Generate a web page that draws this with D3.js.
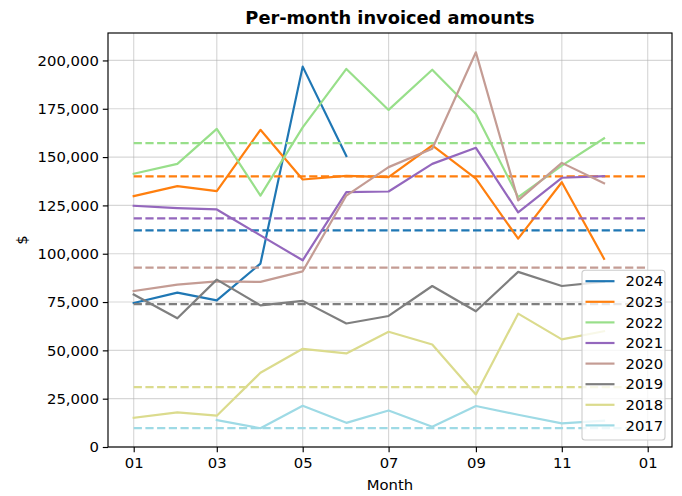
<!DOCTYPE html>
<html>
<head>
<meta charset="utf-8">
<script src="https://cdn.jsdelivr.net/npm/d3@7"></script>
<style>
  body { margin: 0; background: #fff; }
  svg, svg text { font-family: "DejaVu Sans", sans-serif; }
  .axis path, .axis line { stroke: #000; stroke-width: 1.15; }
  .axis text { font-family: "DejaVu Sans", sans-serif; font-size: 14.8px; fill: #000; }
</style>
</head>
<body>
<div id="chart"></div>
<script>
// Données
const months = ["01", "02", "03", "04", "05", "06", "07", "08", "09", "10", "11", "12"];
const years = ["2024", "2023", "2022", "2021", "2020", "2019", "2018", "2017"];
const colors = ["#1f77b4", "#ff7f0e", "#98df8a", "#9467bd", "#c49c94", "#7f7f7f", "#dbdb8d", "#9edae5"];

const values2024 = [74500, 79900, 75900, 94900, 196800, 150500, null, null, null, null, null, null];
const values2023 = [129800, 135000, 132400, 164100, 138400, 140300, 139600, 156000, 138800, 107800, 137000, 97400];
const values2022 = [141400, 146500, 164600, 130100, 165400, 195600, 174400, 195200, 172300, 129300, 145600, 159700];
const values2021 = [124800, 123600, 122900, 109500, 96600, 131900, 132200, 146500, 154800, 121400, 139300, 140100];
const values2020 = [80700, 84000, 85700, 85400, 90900, 130100, 144800, 154300, 204200, 127600, 147000, 136500];
const values2019 = [78900, 66600, 86600, 73300, 75600, 63900, 67800, 83300, 70200, 90600, 83300, 85500];
const values2018 = [15100, 17900, 16200, 38400, 50800, 48400, 59600, 53000, 27200, 69000, 55700, 59900];
const values2017 = [null, null, 13900, 9700, 21300, 12500, 18900, 10500, 21200, 16700, 12200, 13600];

// Moyennes (lignes pointillées)
const means = [112100, 140000, 157200, 118300, 92800, 73900, 31000, 9800];

const yTicks = [0, 25000, 50000, 75000, 100000, 125000, 150000, 175000, 200000];

const allValues = [values2024, values2023, values2022, values2021, values2020, values2019, values2018, values2017];

// 1. Dimensions
const W = 682, H = 496;
const margin = { top: 33, right: 10, bottom: 49, left: 108 };
const width = W - margin.left - margin.right;
const height = H - margin.top - margin.bottom;
const fs = 14.8;     // 10pt
const lw = 2.2;      // 1.5pt

const monthDate = m => new Date(Date.UTC(2001, +m - 1, 1));
const yearStart = new Date(Date.UTC(2001, 0, 1));
const yearEnd = new Date(Date.UTC(2001, 11, 31));
const pad = 18.25 * 864e5;

// 2. Échelles
const x = d3.scaleUtc()
    .domain([new Date(+yearStart - pad), new Date(+yearEnd + pad)])
    .range([0, width]);
const y = d3.scaleLinear()
    .domain([0, 214200])
    .range([height, 0]);

const svg = d3.select("#chart").append("svg")
    .attr("width", W)
    .attr("height", H);

const g = svg.append("g")
    .attr("transform", `translate(${margin.left},${margin.top})`);

// 3. Grille
const xTicks = d3.utcMonth.every(2).range(yearStart, new Date(Date.UTC(2002, 0, 2)));

g.append("g").selectAll("line")
    .data(xTicks)
    .enter().append("line")
    .attr("x1", d => x(d)).attr("x2", d => x(d))
    .attr("y1", 0).attr("y2", height)
    .attr("stroke", "#b0b0b0").attr("stroke-opacity", 0.5).attr("stroke-width", 1.15);

g.append("g").selectAll("line")
    .data(yTicks)
    .enter().append("line")
    .attr("x1", 0).attr("x2", width)
    .attr("y1", d => y(d)).attr("y2", d => y(d))
    .attr("stroke", "#b0b0b0").attr("stroke-opacity", 0.5).attr("stroke-width", 1.15);

// 4. Séries et moyennes
const line = d3.line()
    .defined(d => d.v != null)
    .x(d => x(d.date))
    .y(d => y(d.v));

years.forEach((yr, i) => {
    const pts = months.map((m, j) => ({ date: monthDate(m), v: allValues[i][j] }));
    g.append("path")
        .datum(pts)
        .attr("d", line)
        .attr("fill", "none")
        .attr("stroke", colors[i])
        .attr("stroke-width", lw)
        .attr("stroke-linejoin", "round")
        .attr("stroke-linecap", "square");

    g.append("line")
        .attr("x1", x(yearStart)).attr("x2", x(yearEnd))
        .attr("y1", y(means[i])).attr("y2", y(means[i]))
        .attr("stroke", colors[i])
        .attr("stroke-width", lw)
        .attr("stroke-dasharray", "8.2,3.5");
});

// 5. Axes
g.append("g")
    .attr("class", "axis")
    .attr("transform", `translate(0,${height})`)
    .call(d3.axisBottom(x).tickValues(xTicks).tickFormat(d3.utcFormat("%m")).tickSize(5.2).tickPadding(5))
    .call(a => a.select(".domain").remove());

g.append("g")
    .attr("class", "axis")
    .call(d3.axisLeft(y).tickValues(yTicks).tickFormat(d3.format(",")).tickSize(5.2).tickPadding(4))
    .call(a => a.select(".domain").remove());

// Cadre
g.append("rect")
    .attr("width", width).attr("height", height)
    .attr("fill", "none")
    .attr("stroke", "#000")
    .attr("stroke-width", 1.15);

// 6. Titres
svg.append("text")
    .attr("x", margin.left + width / 2)
    .attr("y", 24)
    .attr("text-anchor", "middle")
    .style("font-size", "17.8px")
    .style("font-weight", "bold")
    .text("Per-month invoiced amounts");

svg.append("text")
    .attr("x", margin.left + width / 2)
    .attr("y", 490)
    .attr("text-anchor", "middle")
    .style("font-size", fs + "px")
    .text("Month");

svg.append("text")
    .attr("transform", `translate(27,${margin.top + height / 2}) rotate(-90)`)
    .attr("text-anchor", "middle")
    .style("font-size", fs + "px")
    .text("$");

// 7. Légende
const legW = 83, rowH = 20.6;
const legH = years.length * rowH + 5;
const legX = width - 7 - legW, legY = height - 7 - legH;
const leg = g.append("g").attr("transform", `translate(${legX},${legY})`);

leg.append("rect")
    .attr("width", legW).attr("height", legH)
    .attr("rx", 3)
    .attr("fill", "#fff").attr("fill-opacity", 0.8)
    .attr("stroke", "#cccccc").attr("stroke-width", 1.1);

const items = leg.selectAll(".leg-item")
    .data(years)
    .enter().append("g")
    .attr("class", "leg-item")
    .attr("transform", (d, i) => `translate(0,${11 + i * rowH})`);

items.append("line")
    .attr("x1", 3.5).attr("x2", 32.5)
    .attr("stroke", (d, i) => colors[i])
    .attr("stroke-width", lw);

items.append("text")
    .attr("x", 43.5)
    .attr("dy", "0.35em")
    .style("font-size", fs + "px")
    .text(d => d);
</script>
</body>
</html>
